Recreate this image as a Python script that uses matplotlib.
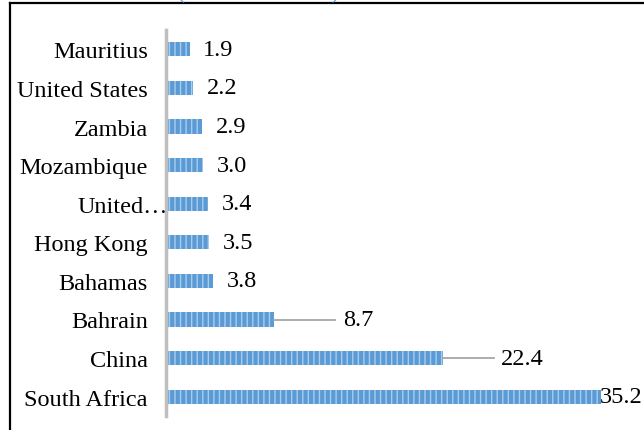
import numpy as np
import matplotlib.pyplot as plt
import matplotlib.transforms as mtransforms
from matplotlib.lines import Line2D

# donnees (de bas en haut)
pays = ['South Africa', 'China', 'Bahrain', 'Bahamas', 'Hong Kong',
        'United…', 'Mozambique', 'Zambia', 'United States', 'Mauritius']
valeurs = [35.2, 22.4, 8.7, 3.8, 3.5, 3.4, 3.0, 2.9, 2.2, 1.9]
etiquettes = ['35.2', '22.4', '8.7', '3.8', '3.5', '3.4', '3.0', '2.9', '2.2', '1.9']

plt.rcParams['font.family'] = ['Liberation Serif', 'DejaVu Serif']

fig = plt.figure(figsize=(6.44, 4.31), dpi=100)
ax = fig.add_axes([166 / 644, 14 / 431, 470 / 644, 386 / 431])

y = np.arange(len(pays))
ax.barh(y, valeurs, height=0.37, color='#5B9BD5', edgecolor='#A9CCEE',
        linewidth=0, hatch='|||')

# etiquettes de valeurs (certaines deplacees avec une ligne de rappel)
deplacees = {'Bahrain': 14.3, 'China': 27.1, 'South Africa': 35.05}
for yi, p, v, t in zip(y, pays, valeurs, etiquettes):
    if p in deplacees:
        xl = deplacees[p]
        if xl - v > 2:
            ax.plot([v, xl - 0.6], [yi, yi], color='#A6A6A6', lw=1.3)
    else:
        xl = v + 1.1
    ax.text(xl, yi, t, va='center', ha='left', fontsize=17.5, color='black')

ax.set_xlim(0, 38.0)
ax.set_ylim(-0.5, 9.5)
ax.set_yticks(y)
ax.set_yticklabels(pays, fontsize=17.5)
ax.tick_params(axis='y', length=0, pad=13)
ax.set_xticks([])
for s in ['top', 'right', 'bottom']:
    ax.spines[s].set_visible(False)
ax.spines['left'].set_color('#BFBFBF')
ax.spines['left'].set_linewidth(2.5)

# l'etiquette tronquee est collee a l'axe dans l'original
for lab in ax.get_yticklabels():
    if lab.get_text() == 'United…':
        lab.set_transform(lab.get_transform() +
                          mtransforms.ScaledTranslation(20 / 100, 0, fig.dpi_scale_trans))

# cadre noir (coupe) autour du graphique
fig.add_artist(Line2D([10 / 644, 10 / 644], [0, 1 - 4 / 431], color='black', lw=1.6))
fig.add_artist(Line2D([10 / 644, 1], [1 - 4 / 431, 1 - 4 / 431], color='black', lw=1.6))

# reste du titre coupe en haut
fig.text(258 / 644, 1 + 2 / 431, '(                         )', ha='center',
         va='baseline', fontsize=17, color='#5B9BD5')

fig.savefig('out.png', dpi=100)
